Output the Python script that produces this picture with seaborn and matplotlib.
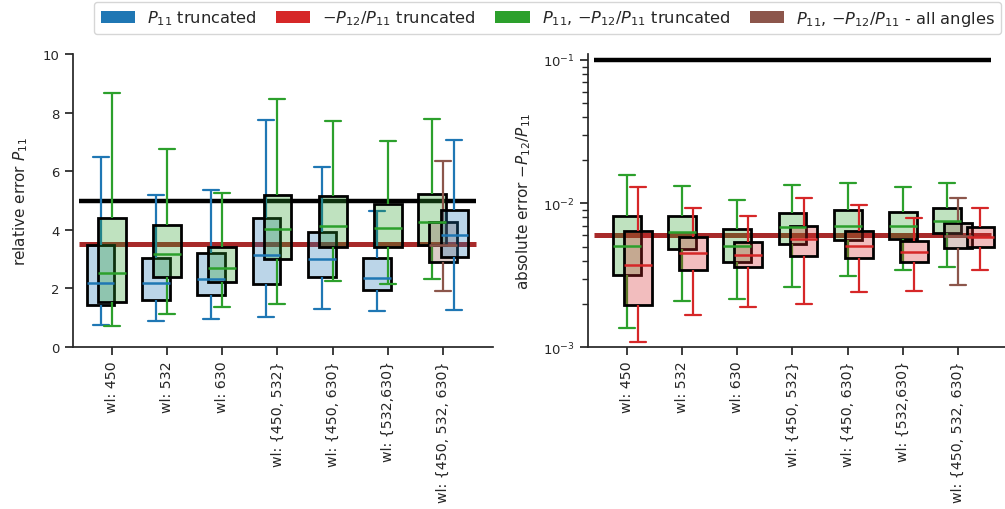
import numpy as np
import matplotlib
matplotlib.use("Agg")
import matplotlib.pyplot as plt
from matplotlib.patches import Patch
import seaborn as sns

# ---------------- data ----------------
categories = ["wl: 450", "wl: 532", "wl: 630", "wl: {450, 532}",
              "wl: {450, 630}", "wl: {532,630}", "wl: {450, 532, 630}"]

# each entry: [lower whisker, q1, median, q3, upper whisker]
# left panel: relative error P11
p11_trunc = [
    [0.75, 1.45, 2.17, 3.48, 6.50],
    [0.88, 1.62, 2.17, 3.04, 5.18],
    [0.96, 1.76, 2.31, 3.22, 5.37],
    [1.01, 2.14, 3.14, 4.39, 7.74],
    [1.29, 2.40, 3.01, 3.91, 6.13],
    [1.22, 1.95, 2.37, 3.04, 4.65],
    [1.25, 3.06, 3.81, 4.68, 7.06],
]
both_trunc_p11 = [
    [0.71, 1.55, 2.51, 4.39, 8.66],
    [1.12, 2.40, 3.17, 4.17, 6.77],
    [1.38, 2.21, 2.69, 3.42, 5.27],
    [1.46, 2.99, 4.04, 5.18, 8.45],
    [2.24, 3.42, 4.12, 5.15, 7.70],
    [2.15, 3.42, 4.05, 4.88, 7.03],
    [2.31, 3.47, 4.27, 5.21, 7.78],
]
all_angles_p11 = [1.92, 2.90, 3.48, 4.28, 6.34]

# right panel: absolute error -P12/P11
p12_trunc = [
    [0.00109, 0.00197, 0.00374, 0.00638, 0.01300],
    [0.00167, 0.00342, 0.00454, 0.00583, 0.00929],
    [0.00190, 0.00359, 0.00439, 0.00541, 0.00813],
    [0.00200, 0.00432, 0.00562, 0.00700, 0.01089],
    [0.00242, 0.00414, 0.00507, 0.00641, 0.00980],
    [0.00245, 0.00391, 0.00458, 0.00552, 0.00794],
    [0.00344, 0.00497, 0.00583, 0.00681, 0.00937],
]
both_trunc_p12 = [
    [0.00136, 0.00317, 0.00507, 0.00820, 0.01585],
    [0.00210, 0.00481, 0.00630, 0.00820, 0.01334],
    [0.00216, 0.00394, 0.00507, 0.00659, 0.01055],
    [0.00262, 0.00524, 0.00681, 0.00861, 0.01355],
    [0.00312, 0.00559, 0.00700, 0.00900, 0.01393],
    [0.00344, 0.00565, 0.00692, 0.00871, 0.01300],
    [0.00361, 0.00625, 0.00757, 0.00933, 0.01393],
]
all_angles_p12 = [0.00272, 0.00491, 0.00598, 0.00733, 0.01084]

# reference lines
p11_limit, p11_mean_ref = 5.0, 3.5
p12_limit, p12_mean_ref = 0.1, 0.006

legend_labels = [r"$P_{11}$ truncated", r"$-P_{12}/P_{11}$ truncated",
                 r"$P_{11}$, $-P_{12}/P_{11}$ truncated",
                 r"$P_{11}$, $-P_{12}/P_{11}$ - all angles"]

# ---------------- style ----------------
sns.set_theme(style="ticks", context="notebook")
plt.rcParams["font.family"] = ["DejaVu Sans"]

BLUE, RED, GREEN, BROWN = "#1f77b4", "#d62728", "#2ca02c", "#8c564b"
LINE_RED = "#a82a2a"

fig = plt.figure(figsize=(10.05, 5.1), dpi=100)
axL = fig.add_axes([73 / 1005, 1 - 348 / 510, 420 / 1005, 293 / 510])
axR = fig.add_axes([588 / 1005, 1 - 348 / 510, 420 / 1005, 293 / 510])
axR.set_yscale("log")


def draw_box(ax, pos, vals, color):
    fill = matplotlib.colors.to_rgba(color, 0.3)
    sns.boxplot(x=[pos] * len(vals), y=vals, native_scale=True, orient="x",
                width=0.5, whis=(0, 100), ax=ax, color=color,
                capwidths=0.29,
                boxprops=dict(facecolor=fill, edgecolor="black", linewidth=2.0),
                medianprops=dict(color=color, linewidth=1.8),
                whiskerprops=dict(color=color, linewidth=1.6),
                capprops=dict(color=color, linewidth=1.6),
                showfliers=False)


last = len(categories) - 1
for ax, ref_lines in [(axL, (p11_limit, p11_mean_ref)),
                      (axR, (p12_limit, p12_mean_ref))]:
    ax.hlines(ref_lines[0], -0.6, 6.6, color="black", lw=3.2, zorder=1)
    ax.hlines(ref_lines[1], -0.6, 6.6, color=LINE_RED, lw=3.6, zorder=1)

for i in range(len(categories)):
    if i < last:
        draw_box(axL, i - 0.2, p11_trunc[i], BLUE)
        draw_box(axL, i, both_trunc_p11[i], GREEN)
        draw_box(axR, i, both_trunc_p12[i], GREEN)
        draw_box(axR, i + 0.2, p12_trunc[i], RED)
    else:
        draw_box(axL, i - 0.2, both_trunc_p11[i], GREEN)
        draw_box(axL, i, all_angles_p11, BROWN)
        draw_box(axL, i + 0.2, p11_trunc[i], BLUE)
        draw_box(axR, i - 0.2, both_trunc_p12[i], GREEN)
        draw_box(axR, i, all_angles_p12, BROWN)
        draw_box(axR, i + 0.4, p12_trunc[i], RED)

for ax in (axL, axR):
    ax.set_xlim(-0.7, 6.9)
    ax.set_xticks(range(len(categories)))
    ax.set_xticklabels(categories, rotation=90, fontsize=10.2)
    ax.tick_params(axis="y", labelsize=9.5)
    ax.set_xlabel("")
    sns.despine(ax=ax)

axL.set_ylim(0, 10)
axL.set_yticks([0, 2, 4, 6, 8, 10])
axL.set_ylabel(r"relative error $P_{11}$", fontsize=11, labelpad=9)

axR.set_ylim(1e-3, 0.11)
axR.set_ylabel(r"absolute error $-P_{12}/P_{11}$", fontsize=11, labelpad=7.5)

handles = [Patch(facecolor=c, edgecolor="none") for c in (BLUE, RED, GREEN, BROWN)]
fig.legend(handles, legend_labels, loc="upper center", ncol=4,
           bbox_to_anchor=(0.545, 1.01), fontsize=11.7, frameon=True,
           handlelength=2.1, handleheight=0.8, handletextpad=0.75,
           columnspacing=1.2, borderpad=0.4)

fig.savefig("out.png", dpi=100)
